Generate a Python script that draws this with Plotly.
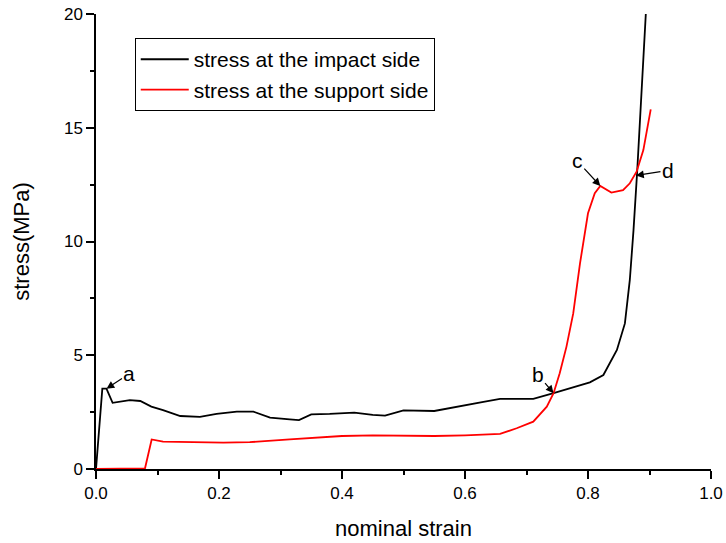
import plotly.graph_objects as go

# impact side (black)
impact_strain = [0.0, 0.0103, 0.017, 0.027, 0.055, 0.072, 0.09, 0.109, 0.137, 0.169, 0.196,
                 0.229, 0.256, 0.283, 0.315, 0.33, 0.35, 0.38, 0.42, 0.45, 0.47, 0.50, 0.55,
                 0.60, 0.63, 0.657, 0.711, 0.744, 0.803, 0.825, 0.847, 0.860, 0.868, 0.874,
                 0.879, 0.880, 0.894, 0.896]
impact_stress = [0.0, 3.53, 3.53, 2.91, 3.03, 2.99, 2.74, 2.59, 2.33, 2.29, 2.42,
                 2.52, 2.52, 2.26, 2.18, 2.15, 2.40, 2.42, 2.48, 2.38, 2.35, 2.58, 2.55,
                 2.78, 2.95, 3.08, 3.08, 3.33, 3.81, 4.13, 5.23, 6.40, 8.31, 10.5,
                 12.7, 13.1, 20.0, 20.4]

# support side (red)
support_strain = [0.0, 0.0797, 0.0905, 0.109, 0.207, 0.25, 0.315, 0.36, 0.40, 0.45, 0.50,
                  0.55, 0.60, 0.657, 0.684, 0.711, 0.733, 0.744, 0.754, 0.765, 0.776,
                  0.787, 0.800, 0.811, 0.820, 0.838, 0.857, 0.868, 0.879, 0.890, 0.902]
support_stress = [0.0, 0.03, 1.30, 1.20, 1.16, 1.18, 1.30, 1.38, 1.45, 1.48, 1.45,
                  1.45, 1.48, 1.54, 1.79, 2.08, 2.74, 3.33, 4.21, 5.38, 6.84,
                  9.04, 11.24, 12.12, 12.44, 12.15, 12.26, 12.56, 13.07, 14.02, 15.81]

# annotations: label, strain, stress, ax, ay
ann_labels = ["a", "b", "c", "d"]
ann_x = [0.017, 0.744, 0.820, 0.878]
ann_y = [3.53, 3.33, 12.44, 12.9]
ann_ax = [23, -16, -23, 32]
ann_ay = [-15, -19, -25, -5]

FONT = "Liberation Sans, Arial, sans-serif"

fig = go.Figure()
fig.add_trace(go.Scatter(x=impact_strain, y=impact_stress, mode="lines",
                         line=dict(color="black", width=1.8),
                         name="stress at the impact side"))
fig.add_trace(go.Scatter(x=support_strain, y=support_stress, mode="lines",
                         line=dict(color="#ff0000", width=1.8),
                         name="stress at the support side"))

for lab, x, y, ax, ay in zip(ann_labels, ann_x, ann_y, ann_ax, ann_ay):
    fig.add_annotation(x=x, y=y, text=lab, showarrow=True, ax=ax, ay=ay,
                       arrowhead=2, arrowsize=1.3, arrowwidth=1.2, arrowcolor="black",
                       font=dict(size=21, color="black", family=FONT), standoff=0)

fig.update_layout(
    width=726, height=543,
    margin=dict(l=96, r=15, t=14, b=74),
    plot_bgcolor="white", paper_bgcolor="white",
    font=dict(family=FONT, color="black"),
    showlegend=True,
    legend=dict(x=0.063, y=0.947, xanchor="left", yanchor="top",
                bordercolor="black", borderwidth=1, bgcolor="white",
                font=dict(size=21, family=FONT), tracegroupgap=0, itemwidth=48),
    xaxis=dict(range=[0, 1.0], dtick=0.2, tickformat=".1f", showgrid=False, zeroline=False,
               automargin=False,
               showline=True, linecolor="black", linewidth=1.5,
               ticks="outside", ticklen=8, tickwidth=1.5, tickcolor="black",
               minor=dict(ticks="outside", dtick=0.1, ticklen=4, tickwidth=1.5, tickcolor="black"),
               tickfont=dict(size=17), title=dict(text="nominal strain", font=dict(size=22), standoff=18)),
    yaxis=dict(range=[0, 20], dtick=5, showgrid=False, zeroline=False,
               automargin=False,
               showline=True, linecolor="black", linewidth=1.5,
               ticks="outside", ticklen=8, tickwidth=1.5, tickcolor="black",
               minor=dict(ticks="outside", dtick=2.5, ticklen=4, tickwidth=1.5, tickcolor="black"),
               tickfont=dict(size=17), title=dict(text="stress(MPa)", font=dict(size=22), standoff=28)),
    xaxis2=dict(range=[0, 1.0], overlaying="x", side="top", anchor="y", dtick=0.1,
                showticklabels=False, showgrid=False, zeroline=False, automargin=False,
                showline=True, linecolor="black", linewidth=1.5,
                ticks="inside", ticklen=4, tickwidth=1.5, tickcolor="black"),
    yaxis2=dict(range=[0, 20], overlaying="y", side="right", anchor="x", dtick=2.5,
                showticklabels=False, showgrid=False, zeroline=False, automargin=False,
                showline=True, linecolor="black", linewidth=1.5,
                ticks="inside", ticklen=4, tickwidth=1.5, tickcolor="black"),
)

fig.write_html("out.html")
